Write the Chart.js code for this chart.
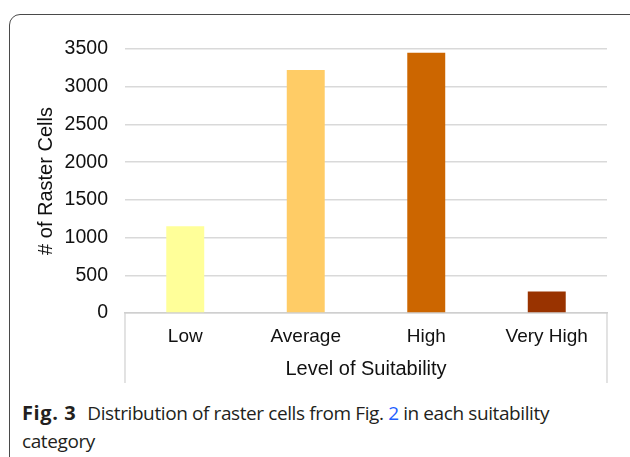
<!DOCTYPE html>
<html>
<head>
<meta charset="utf-8">
<script src="https://cdn.jsdelivr.net/npm/chart.js@4"></script>
<style>
  html, body { margin: 0; padding: 0; background: #fff; }
  body { width: 630px; height: 457px; position: relative; overflow: hidden; }
  .frame {
    position: absolute; left: 9px; top: 14px; width: 640px; height: 480px;
    border: 1.5px solid #4a4a4a; border-radius: 11px; box-sizing: border-box;
  }
  .wrap { position: absolute; left: 10px; top: 15px; width: 618px; height: 368px; }
  .caption {
    position: absolute; left: 22px; top: 399px; width: 550px;
    font-family: "Open Sans", sans-serif; font-size: 19px; line-height: 28px;
    color: #231f20; letter-spacing: -0.4px;
  }
  .caption b { font-weight: 700; font-size: 20px; margin-right: 11px; letter-spacing: 0.6px; }
  .caption .ref { color: #1f5fff; }
</style>
</head>
<body>
<div class="frame"></div>
<div class="wrap"><canvas id="chart" width="618" height="368"></canvas></div>
<div class="caption"><b>Fig. 3</b>Distribution of raster cells from Fig. <span class="ref">2</span> in each suitability category</div>
<script>
const categories = ['Low', 'Average', 'High', 'Very High'];
const cellCounts = [1150, 3220, 3450, 285];
const barColors = ['#FFFF99', '#FFCC66', '#CC6600', '#993300'];
const yTicks = [0, 500, 1000, 1500, 2000, 2500, 3000, 3500];

const FONT = '"Liberation Sans", Arial, sans-serif';

// box under the plot area that frames the category labels
const axisBox = {
  id: 'axisBox',
  afterDraw(chart) {
    const { ctx, chartArea } = chart;
    ctx.save();
    ctx.strokeStyle = '#d0d0d0';
    ctx.lineWidth = 1.2;
    ctx.beginPath();
    ctx.moveTo(chartArea.left, chartArea.bottom);
    ctx.lineTo(chartArea.left, chart.height);
    ctx.moveTo(chartArea.right, chartArea.bottom);
    ctx.lineTo(chartArea.right, chart.height);
    ctx.stroke();
    ctx.restore();
  }
};

new Chart(document.getElementById('chart'), {
  type: 'bar',
  data: {
    labels: categories,
    datasets: [{
      data: cellCounts,
      backgroundColor: barColors,
      borderWidth: 0,
      barPercentage: 0.63,
      categoryPercentage: 0.5
    }]
  },
  options: {
    responsive: false,
    animation: false,
    layout: { padding: { left: 0, right: 21, top: 34, bottom: 0 } },
    plugins: { legend: { display: false }, tooltip: { enabled: false } },
    scales: {
      x: {
        grid: { display: false, drawTicks: false },
        border: { display: true, color: '#cfcfcf', width: 1.5 },
        ticks: { color: '#111', font: { family: FONT, size: 19 }, padding: 12 },
        title: { display: true, text: 'Level of Suitability', color: '#111',
                 font: { family: FONT, size: 20 }, padding: { top: 0, bottom: 2 } },
        afterFit(scale) { scale.height = 70; }
      },
      y: {
        min: 0, max: 3500,
        afterBuildTicks(scale) { scale.ticks = yTicks.map(v => ({ value: v })); },
        grid: { color: '#d9d9d9', lineWidth: 1.5, drawTicks: false },
        border: { display: false },
        ticks: { color: '#111', font: { family: FONT, size: 19.5 }, padding: 17,
                 callback: v => String(v) },
        title: { display: true, text: '# of Raster Cells', color: '#111',
                 font: { family: FONT, size: 20 }, padding: { top: 24, bottom: 0 } },
        afterFit(scale) { scale.width = 115; }
      }
    }
  },
  plugins: [axisBox]
});
</script>
</body>
</html>
